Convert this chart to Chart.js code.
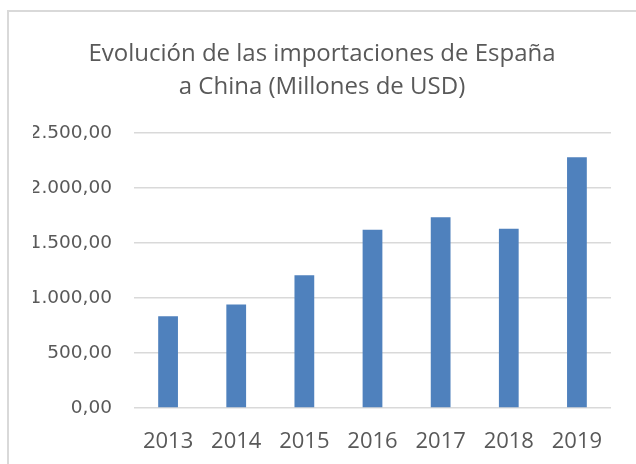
<!DOCTYPE html>
<html>
<head>
<meta charset="utf-8">
<script src="https://cdn.jsdelivr.net/npm/chart.js@4.4.0/dist/chart.umd.min.js"></script>
<style>
  html, body { margin: 0; padding: 0; background: #ffffff; }
  #wrap { position: relative; width: 636px; height: 464px; overflow: hidden; }
  #frame { position: absolute; left: 7px; top: 10px; width: 700px; height: 500px; border: 2px solid #d9d9d9; box-sizing: border-box; pointer-events: none; }
  canvas { position: absolute; left: 0; top: 0; }
</style>
</head>
<body>
<div id="wrap">
  <canvas id="c" width="636" height="464"></canvas>
  <div id="frame"></div>
</div>
<script>
const titleLines = ["Evolución de las importaciones de España", "a China (Millones de USD)"];
const categories = ["2013", "2014", "2015", "2016", "2017", "2018", "2019"];
const importValues = [833, 939, 1205, 1618, 1733, 1627, 2278];
const yTickValues = [0, 500, 1000, 1500, 2000, 2500];

function fmtES(v) {
  const fixed = Math.abs(v).toFixed(2);
  let [intPart, dec] = fixed.split(".");
  intPart = intPart.replace(/\B(?=(\d{3})+(?!\d))/g, ".");
  return (v < 0 ? "-" : "") + intPart + "," + dec;
}

const textColor = "#595959";
const gridColor = "#d9d9d9";

new Chart(document.getElementById("c"), {
  type: "bar",
  data: {
    labels: categories,
    datasets: [{
      label: "Importaciones",
      data: importValues,
      backgroundColor: "#4f81bd",
      borderWidth: 0,
      barPercentage: 0.29,
      categoryPercentage: 1.0
    }]
  },
  options: {
    responsive: false,
    animation: false,
    layout: { padding: { left: 33, right: 25, top: 0, bottom: 0 } },
    plugins: {
      legend: { display: false },
      tooltip: { enabled: false },
      title: {
        display: true,
        text: titleLines,
        color: textColor,
        font: { family: "'Open Sans', sans-serif", size: 24, weight: "normal", lineHeight: 1.39 },
        padding: { top: 37, bottom: 29 }
      }
    },
    scales: {
      x: {
        grid: { display: false, drawTicks: false },
        border: { display: false },
        ticks: {
          color: textColor,
          font: { family: "'Open Sans', sans-serif", size: 22 },
          padding: 21,
          maxRotation: 0
        },
        afterFit: (s) => { s.height = 56; }
      },
      y: {
        min: 0,
        max: 2500,
        afterBuildTicks: (s) => { s.ticks = yTickValues.map(v => ({ value: v })); },
        grid: { color: gridColor, lineWidth: 1.5, drawTicks: false },
        border: { display: false },
        ticks: {
          color: textColor,
          font: { family: "'DejaVu Sans', sans-serif", size: 18.5 },
          padding: 22,
          callback: (v) => fmtES(v)
        },
        afterFit: (s) => { s.width = 101; }
      }
    }
  }
});
</script>
</body>
</html>
